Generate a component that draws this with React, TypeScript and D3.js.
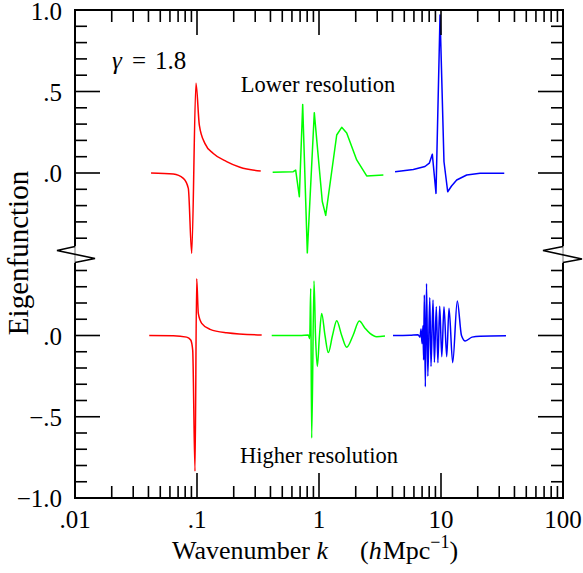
import React from 'react';
import * as d3 from 'd3';

type P = [number, number];

// Lower resolution (top panel) — [k, eigenfunction]
const redTop: P[] = [
  [0.042, 0.0], [0.064, -0.006], [0.0773, -0.033], [0.0849, -0.094], [0.0905, -0.493],
  [0.0981, 0.55], [0.1045, 0.294], [0.1163, 0.18], [0.136, 0.12], [0.175, 0.07],
  [0.225, 0.035], [0.333, 0.012],
];
const greenTop: P[] = [
  [0.417, 0.004], [0.615, 0.008], [0.644, 0.018], [0.69, -0.145], [0.735, 0.42],
  [0.802, -0.49], [0.915, 0.37], [1.064, -0.175], [1.135, -0.26], [1.397, 0.233],
  [1.535, 0.28], [1.687, 0.245], [2.037, 0.08], [2.46, -0.018], [3.37, -0.012],
];
const blueTop: P[] = [
  [4.2, 0.008], [5.93, 0.022], [7.39, 0.04], [8.02, 0.06], [8.49, 0.115], [9.1, -0.125],
  [9.82, 0.97], [10.58, 0.069], [11.35, -0.115], [12.2, -0.08], [13.45, -0.043], [16.25, -0.012],
  [20.9, -0.002], [33.0, -0.002],
];

// Higher resolution (bottom panel)
const redBot: P[] = [
  [0.0406, 0.0], [0.064, -0.001], [0.0823, -0.01], [0.0888, -0.028], [0.0922, -0.09],
  [0.0963, -0.835], [0.0994, 0.35], [0.1025, 0.136], [0.1093, 0.075], [0.128, 0.038],
  [0.175, 0.017], [0.339, 0.003],
];
const greenBot: P[] = [
  [0.4096, 0.0], [0.699, 0.0], [0.817, 0.003], [0.839, -0.02], [0.855, 0.29], [0.871, -0.63],
  [0.91, 0.336], [0.936, 0.0], [0.969, -0.19], [1.009, 0.0], [1.052, 0.136], [1.12, 0.0],
  [1.192, -0.105], [1.29, 0.0], [1.397, 0.091], [1.535, 0.0], [1.687, -0.072], [1.9, 0.0],
  [2.139, 0.089], [2.383, 0.045], [2.618, 0.013], [2.97, -0.007], [3.475, -0.003],
];
const blueBot: P[] = [
  [4.04, 0.0], [5.57, 0.002], [6.48, 0.005], [6.73, -0.01], [6.86, 0.04], [6.99, -0.05],
  [7.12, 0.06], [7.2, -0.15], [7.3, 0.25], [7.44, -0.315], [7.61, 0.32], [7.8, -0.25],
  [8.09, 0.234], [8.28, -0.19], [8.6, 0.218], [8.83, -0.165], [9.15, 0.177], [9.43, -0.167],
  [9.76, 0.18], [10.15, -0.13], [10.58, 0.177], [11.14, -0.13], [11.63, 0.167],
  [12.47, -0.167], [13.6, 0.213], [14.72, 0.0], [15.82, -0.034], [17.95, -0.01],
  [20.88, -0.004], [34.1, -0.002],
];

const xMajor = [0.01, 0.1, 1, 10, 100];
const xLabels = ['.01', '.1', '1', '10', '100'];
const topMajor = [0, 0.5, 1.0];
const topLabels = ['.0', '.5', '1.0'];
const topMinor = [-0.4, -0.3, -0.2, -0.1, 0.1, 0.2, 0.3, 0.4, 0.6, 0.7, 0.8, 0.9];
const botMajor = [-1.0, -0.5, 0];
const botLabels = ['\u22121.0', '\u2212.5', '.0'];
const botMinor = [-0.9, -0.8, -0.7, -0.6, -0.4, -0.3, -0.2, -0.1, 0.1, 0.2, 0.3, 0.4];

const FONT = "'Liberation Serif', 'Times New Roman', serif";

export default function App() {
  const W = 583, H = 573;
  const X0 = 75, X1 = 563, YT = 10, YB = 498;
  const BR0 = 246.5, BR1 = 262.5;
  const x = d3.scaleLog().domain([0.01, 100]).range([X0, X1]);
  const yTop = d3.scaleLinear().domain([0, 1]).range([173, 10]);
  const yBot = d3.scaleLinear().domain([-1, 0]).range([498, 335.5]);
  const lineTopSmooth = d3.line<P>().x(d => x(d[0])).y(d => yTop(d[1])).curve(d3.curveMonotoneX);
  const lineTop = d3.line<P>().x(d => x(d[0])).y(d => yTop(d[1]));
  const lineBot = d3.line<P>().x(d => x(d[0])).y(d => yBot(d[1])).curve(d3.curveMonotoneX);

  const xMinor: number[] = [];
  [0.01, 0.1, 1, 10].forEach(dec => { for (let m = 2; m <= 9; m++) xMinor.push(m * dec); });

  const MAJ = 25, MIN = 12;
  const stroke = '#000';
  const tw = 1.6;

  const yTicks: { y: number; len: number }[] = [
    ...topMajor.map(v => ({ y: yTop(v), len: MAJ })),
    ...topMinor.map(v => ({ y: yTop(v), len: MIN })),
    ...botMajor.map(v => ({ y: yBot(v), len: MAJ })),
    ...botMinor.map(v => ({ y: yBot(v), len: MIN })),
  ];
  const xTicks: { x: number; len: number }[] = [
    ...xMajor.map(v => ({ x: x(v), len: MAJ })),
    ...xMinor.map(v => ({ x: x(v), len: MIN })),
  ];

  const zigL = `M${X0},${BR0} L${X0 - 18},${BR0 + 4} L${X0 + 20},${BR0 + 12} L${X0},${BR1}`;
  const zigR = `M${X1},${BR0} L${X1 - 20},${BR0 + 4} L${X1 + 19},${BR0 + 12.5} L${X1},${BR1}`;

  return (
    <svg width={W} height={H} style={{ position: 'absolute', left: 0, top: 0, background: '#fff' }}
      fontFamily={FONT}>
      <rect x={0} y={0} width={W} height={H} fill="#fff" />
      {/* curves */}
      <g fill="none" strokeWidth={1.5} strokeLinejoin="round">
        <path d={lineTopSmooth(redTop) || ''} stroke="#ff0000" />
        <path d={lineTop(greenTop) || ''} stroke="#00ff00" />
        <path d={lineTop(blueTop) || ''} stroke="#0000ff" />
        <path d={lineBot(redBot) || ''} stroke="#ff0000" />
        <path d={lineBot(greenBot) || ''} stroke="#00ff00" />
        <path d={lineBot(blueBot) || ''} stroke="#0000ff" />
      </g>
      {/* ticks */}
      <g stroke={stroke} strokeWidth={tw}>
        {yTicks.map((t, i) => (
          <g key={'y' + i}>
            <line x1={X0} x2={X0 + t.len} y1={t.y} y2={t.y} />
            <line x1={X1} x2={X1 - t.len} y1={t.y} y2={t.y} />
          </g>
        ))}
        {xTicks.map((t, i) => (
          <g key={'x' + i}>
            <line x1={t.x} x2={t.x} y1={YB} y2={YB - t.len} />
            <line x1={t.x} x2={t.x} y1={YT} y2={YT + t.len} />
          </g>
        ))}
      </g>
      {/* frame */}
      <g stroke={stroke} strokeWidth={2} fill="none">
        <line x1={X0 - 1} x2={X1 + 1} y1={YT} y2={YT} />
        <line x1={X0 - 1} x2={X1 + 1} y1={YB} y2={YB} />
        <line x1={X0} x2={X0} y1={YT} y2={BR0} />
        <line x1={X0} x2={X0} y1={BR1} y2={YB} />
        <line x1={X1} x2={X1} y1={YT} y2={BR0} />
        <line x1={X1} x2={X1} y1={BR1} y2={YB} />
      </g>
      <g stroke="#bbb" strokeWidth={2}>
        <line x1={X0} x2={X0} y1={BR0} y2={BR1} />
        <line x1={X1} x2={X1} y1={BR0} y2={BR1} />
      </g>
      <g stroke={stroke} strokeWidth={1.6} fill="none">
        <path d={zigL} />
        <path d={zigR} />
      </g>
      {/* tick labels */}
      <g fontSize={25} fill="#000">
        {topMajor.map((v, i) => (
          <text key={'tl' + i} x={X0 - 13} y={Math.max(yTop(v) + 9, 20)} textAnchor="end">{topLabels[i]}</text>
        ))}
        {botMajor.map((v, i) => (
          <text key={'bl' + i} x={X0 - 13} y={yBot(v) + 9} textAnchor="end">{botLabels[i]}</text>
        ))}
        {xMajor.map((v, i) => (
          <text key={'xl' + i} x={x(v)} y={528} textAnchor="middle">{xLabels[i]}</text>
        ))}
      </g>
      {/* annotations */}
      <g fontSize={25}>
        <text x={112} y={69} fontStyle="italic">γ</text>
        <text x={132} y={69}>=</text>
        <text x={155} y={69}>1.8</text>
      </g>
      <text x={318} y={92} fontSize={22.5} textAnchor="middle">Lower resolution</text>
      <text x={319} y={463} fontSize={22.5} textAnchor="middle">Higher resolution</text>
      {/* axis titles */}
      <text x={172} y={559} fontSize={26}>
        <tspan>Wavenumber </tspan><tspan fontStyle="italic">k</tspan>
        <tspan dx={32}>(</tspan><tspan fontStyle="italic">h</tspan><tspan dx={1}>Mpc</tspan>
        <tspan dy={-11} fontSize={18}>{'\u22121'}</tspan><tspan dy={11}>)</tspan>
      </text>
      <text transform={`translate(28,253) rotate(-90)`} fontSize={29} textAnchor="middle">Eigenfunction</text>
    </svg>
  );
}
